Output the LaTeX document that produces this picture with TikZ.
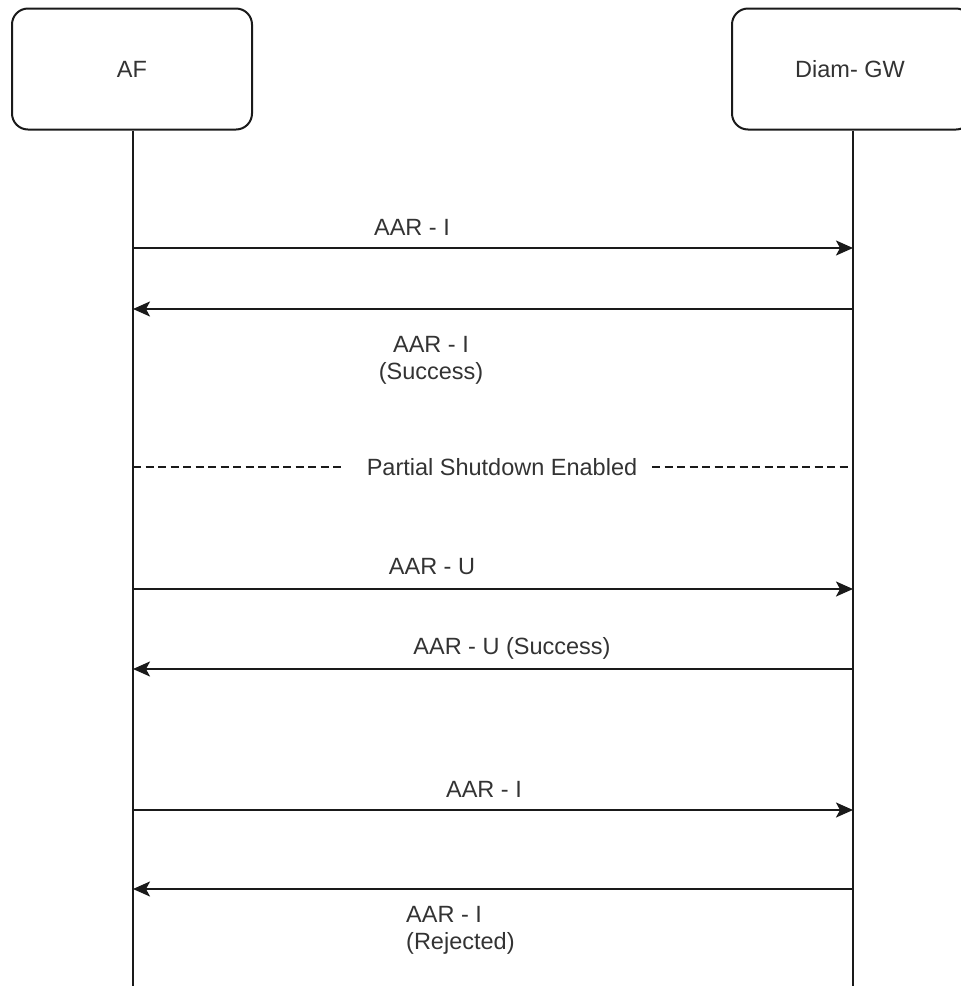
\documentclass[tikz,border=0pt]{standalone}
\usepackage{fontspec}
\setmainfont{Liberation Sans}
\usetikzlibrary{arrows.meta}
\definecolor{txt}{RGB}{51,51,51}
\definecolor{ln}{RGB}{26,26,26}
\tikzset{
  actor/.style={draw=ln, line width=2pt, rounded corners=16pt, fill=white,
    minimum width=240pt, minimum height=121pt, inner sep=0pt,
    text=txt, font=\fontsize{23.5}{27}\selectfont},
  lifeline/.style={draw=ln, line width=2pt},
  msg/.style={draw=ln, line width=2pt, -{Stealth[length=17pt,width=15pt,inset=4pt]}},
  lbl/.style={text=txt, font=\fontsize{23.5}{27}\selectfont, inner sep=0pt},
  sep/.style={draw=ln, line width=1.6pt, dash pattern=on 8pt off 4.5pt},
}
\begin{document}
\begin{tikzpicture}[x=1pt,y=-1pt]
\useasboundingbox (0,0) rectangle (961,986);
\clip (0,0) rectangle (961,986);
% actors
\node[actor] (af) at (132,69) {};
\node[lbl] (aft) at (132,69) {AF};
\node[actor] (gw) at (852,69) {};
\node[lbl] (gwt) at (850,69) {Diam- GW};
% lifelines
\coordinate (afend) at (133,990);
\coordinate (gwend) at (853,990);
\draw[lifeline] (af.south -| afend) -- (afend);
\draw[lifeline] (gw.south -| gwend) -- (gwend);
% message anchor points
\foreach \n/\y in {1/248,2/309,3/467,4/589,5/669,6/810,7/889}{
  \coordinate (l\n) at (133,\y);
  \coordinate (r\n) at (853,\y);
}
% messages
\draw[msg] (l1) -- (r1);
\node[lbl] (m1) at (412,227) {AAR - I};
\draw[msg] (r2) -- (l2);
\node[lbl, align=center] (m2) at (431,360) {AAR - I\\(Success)};
% separator
\node[lbl] (ps) at (502,467) {Partial Shutdown Enabled};
\coordinate (psl) at (342,467);
\coordinate (psr) at (652,467);
\draw[sep] (l3) -- (psl);
\draw[sep] (psr) -- (r3);
\draw[msg] (l4) -- (r4);
\node[lbl] (m4) at (432,567) {AAR - U};
\draw[msg] (r5) -- (l5);
\node[lbl] (m5) at (512,648) {AAR - U (Success)};
\draw[msg] (l6) -- (r6);
\node[lbl] (m6) at (484,789) {AAR - I};
\draw[msg] (r7) -- (l7);
\node[lbl, align=left, anchor=west] (m7) at (406,930) {AAR - I\\(Rejected)};
\end{tikzpicture}
\end{document}
